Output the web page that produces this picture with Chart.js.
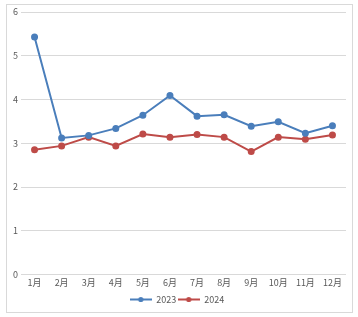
<!DOCTYPE html>
<html>
<head>
<meta charset="utf-8">
<script src="https://cdn.jsdelivr.net/npm/chart.js@4/dist/chart.umd.min.js"></script>
<style>
  body { margin: 0; background: #fff; }
  #box { position: absolute; left: 6px; top: 4px; width: 345px; height: 307px; border: 1px solid #d9d9d9; }
</style>
</head>
<body>
<div id="box"><canvas id="lineChart" width="345" height="307"></canvas></div>
<script>
// data
const months = ['1月', '2月', '3月', '4月', '5月', '6月', '7月', '8月', '9月', '10月', '11月', '12月'];
const values2023 = [5.43, 3.12, 3.18, 3.34, 3.64, 4.09, 3.62, 3.65, 3.39, 3.49, 3.23, 3.40];
const values2024 = [2.85, 2.94, 3.14, 2.94, 3.21, 3.14, 3.20, 3.14, 2.81, 3.14, 3.09, 3.19];
const seriesNames = ['2023', '2024'];

const blue = '#4a7ebb';
const red = '#be4b48';
const font = { family: "'Noto Sans CJK SC', 'DejaVu Sans', sans-serif", size: 9 };

// small line-with-dot marker for the legend
function legendMarker(color) {
  const c = document.createElement('canvas');
  c.width = 22; c.height = 7;
  const g = c.getContext('2d');
  g.strokeStyle = color; g.lineWidth = 2;
  g.beginPath(); g.moveTo(0, 3.5); g.lineTo(22, 3.5); g.stroke();
  g.fillStyle = color;
  g.beginPath(); g.arc(11, 3.5, 2.6, 0, Math.PI * 2); g.fill();
  return c;
}

const ctx = document.getElementById('lineChart').getContext('2d');
new Chart(ctx, {
  type: 'line',
  data: {
    labels: months,
    datasets: [
      { label: seriesNames[0], data: values2023, borderColor: blue, backgroundColor: blue, borderWidth: 2, pointRadius: 2.5, pointStyle: 'circle' },
      { label: seriesNames[1], data: values2024, borderColor: red, backgroundColor: red, borderWidth: 2, pointRadius: 2.5, pointStyle: 'circle' }
    ]
  },
  options: {
    responsive: false,
    animation: false,
    layout: { padding: { left: 0, right: 5, top: 7, bottom: -2 } },
    plugins: {
      tooltip: { enabled: false },
      legend: {
        position: 'bottom',
        labels: {
          usePointStyle: true,
          pointStyleWidth: 22,
          boxHeight: 7,
          padding: 1.5,
          color: '#595959',
          font: font,
          generateLabels: chart => chart.data.datasets.map((ds, i) => ({
            text: ds.label,
            pointStyle: legendMarker(ds.borderColor),
            fillStyle: ds.borderColor,
            strokeStyle: ds.borderColor,
            lineWidth: 0,
            fontColor: '#595959',
            datasetIndex: i
          }))
        }
      }
    },
    scales: {
      x: {
        offset: true,
        grid: { display: false },
        border: { display: false },
        ticks: { color: '#595959', font: font, maxRotation: 0, padding: -5 },
        afterFit: s => { s.height = 19; s.paddingLeft = 0; s.paddingRight = 0; }
      },
      y: {
        min: 0,
        max: 6,
        ticks: { stepSize: 1, color: '#595959', font: font, padding: 3 },
        grid: { color: '#d9d9d9', drawTicks: false },
        border: { display: false },
        afterFit: s => { s.width = 14; s.paddingTop = 0; s.paddingBottom = 0; }
      }
    }
  }
});
</script>
</body>
</html>
